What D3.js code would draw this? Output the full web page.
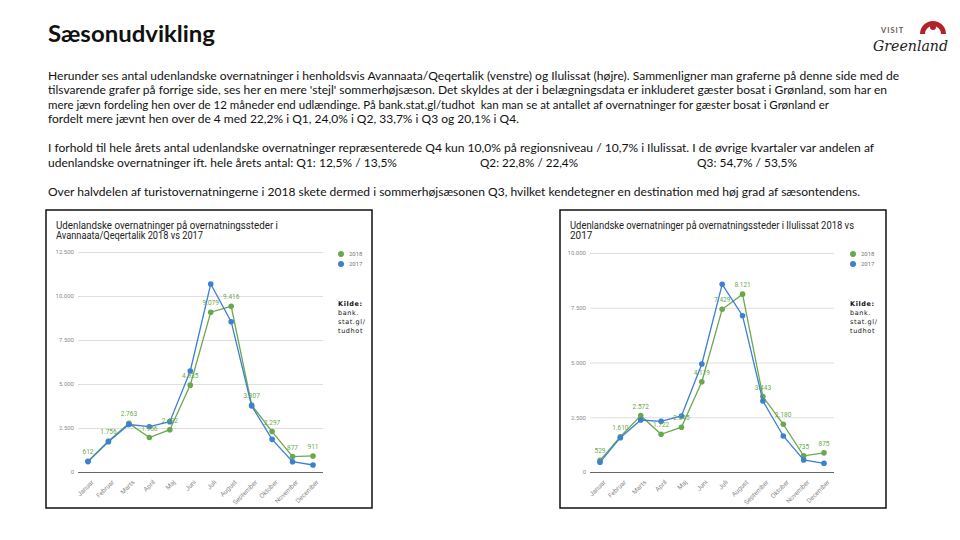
<!DOCTYPE html>
<html><head><meta charset="utf-8">
<script src="https://cdn.jsdelivr.net/npm/d3@7"></script>
<style>body{margin:0;background:#fff}svg{display:block}</style>
</head><body><svg id="c" width="960" height="540"></svg>
<script>
const pageTitle = "Sæsonudvikling";
const paragraph1 = [
  "Herunder ses antal udenlandske overnatninger i henholdsvis Avannaata/Qeqertalik (venstre) og Ilulissat (højre). Sammenligner man graferne på denne side med de",
  "tilsvarende grafer på forrige side, ses her en mere 'stejl' sommerhøjsæson. Det skyldes at der i belægningsdata er inkluderet gæster bosat i Grønland, som har en",
  "mere jævn fordeling hen over de 12 måneder end udlændinge. På bank.stat.gl/tudhot  kan man se at antallet af overnatninger for gæster bosat i Grønland er",
  "fordelt mere jævnt hen over de 4 med 22,2% i Q1, 24,0% i Q2, 33,7% i Q3 og 20,1% i Q4."
];
const paragraph2 = "I forhold til hele årets antal udenlandske overnatninger repræsenterede Q4 kun 10,0% på regionsniveau / 10,7% i Ilulissat. I de øvrige kvartaler var andelen af";
const paragraph2Parts = ["udenlandske overnatninger ift. hele årets antal: Q1: 12,5% / 13,5%", "Q2: 22,8% / 22,4%", "Q3: 54,7% / 53,5%"];
const paragraph3 = "Over halvdelen af turistovernatningerne i 2018 skete dermed i sommerhøjsæsonen Q3, hvilket kendetegner en destination med høj grad af sæsontendens.";

const months = ["Januar","Februar","Marts","April","Maj","Juni","Juli","August","September","Oktober","November","December"];
const seriesNames = ["2018","2017"];
const avannaata2018 = [612,1756,2763,1956,2402,4935,9079,9416,3807,2297,877,911];
const avannaata2017 = [590,1720,2700,2575,2860,5740,10680,8540,3750,1856,585,398];
const ilulissat2018 = [529,1610,2572,1722,2045,4119,7429,8121,3443,2180,735,875];
const ilulissat2017 = [443,1566,2374,2313,2557,4930,8570,7137,3242,1644,548,397];
const ticksAvannaata = [0,2500,5000,7500,10000,12500];
const ticksIlulissat = [0,2500,5000,7500,10000];
const titleAvannaata = ["Udenlandske overnatninger på overnatningssteder i","Avannaata/Qeqertalik 2018 vs 2017"];
const titleIlulissat = ["Udenlandske overnatninger på overnatningssteder i Ilulissat 2018 vs","2017"];
const sourceLines = ["Kilde:","bank.","stat.gl/","tudhot"];

const GREEN = "#6aa84f", BLUE = "#3d7fd3";
const svg = d3.select("#c");
const fmt = d3.formatLocale({decimal:",", thousands:".", grouping:[3], currency:["","kr"]}).format(",d");

// Page title
svg.append("text").attr("x",48).attr("y",42).attr("font-family","Lato, 'Open Sans', sans-serif")
  .attr("font-weight","bold").attr("font-size",22).attr("fill","#111")
  .attr("textLength",167).attr("lengthAdjust","spacingAndGlyphs").text(pageTitle);

// Logo
const logo = svg.append("g");
logo.append("text").attr("x",881).attr("y",33).attr("font-family","Lato, sans-serif").attr("font-weight","bold")
  .attr("font-size",7.5).attr("fill","#6b5a5a").attr("letter-spacing",1).text("VISIT");
logo.append("path").attr("d","M920,34 A13,13 0 0 1 946,34 L941,34 A8,8 0 0 0 925,34 Z").attr("fill","#b3222c");
logo.append("circle").attr("cx",933).attr("cy",27).attr("r",3).attr("fill","#b3222c");
logo.append("text").attr("x",873).attr("y",51).attr("font-family","'DejaVu Serif', serif").attr("font-style","italic")
  .attr("font-size",14).attr("fill","#222").attr("textLength",75).attr("lengthAdjust","spacingAndGlyphs").text("Greenland");

// Paragraph text
const pFont = "Lato, 'Open Sans', sans-serif";
function pline(txt, x, y, w){
  svg.append("text").attr("x",x).attr("y",y).attr("font-family",pFont).attr("font-size",11).attr("fill","#111")
    .attr("textLength",w).attr("lengthAdjust","spacingAndGlyphs").style("white-space","pre").text(txt);
}
const p1Ends = [899, 887, 829, 519];
const p1Base = [80, 94, 109, 123];
paragraph1.forEach((t,i)=>pline(t, 48, p1Base[i], p1Ends[i]-48));
pline(paragraph2, 48, 152, 874-48);
pline(paragraph2Parts[0], 48, 167, 397-48);
pline(paragraph2Parts[1], 480, 167, 98);
pline(paragraph2Parts[2], 697, 167, 100);
pline(paragraph3, 48, 196, 860-48);

function drawChart(cfg){
  const g = svg.append("g");
  g.append("rect").attr("x",cfg.box[0]).attr("y",cfg.box[1]).attr("width",cfg.box[2]).attr("height",cfg.box[3])
    .attr("fill","#fff").attr("stroke","#111").attr("stroke-width",1.5);
  cfg.title.forEach((t,i)=>{
    const tx = g.append("text").attr("x",cfg.titleX).attr("y",cfg.titleY + i*10)
      .attr("font-family","Roboto, Arial, sans-serif").attr("font-size",10).attr("fill","#222").text(t);
    if (cfg.titleW[i]) tx.attr("textLength",cfg.titleW[i]).attr("lengthAdjust","spacingAndGlyphs");
  });
  const x = d3.scalePoint().domain(months).range(cfg.xRange);
  const y = d3.scaleLinear().domain([0, cfg.yMax]).range([472, cfg.yTop]);
  const gx0 = cfg.xRange[0]-10, gx1 = cfg.xRange[1]+10;
  const ya = g.append("g").attr("transform",`translate(${gx0},0)`)
    .call(d3.axisLeft(y).tickValues(cfg.ticks).tickSize(-(gx1-gx0)).tickPadding(4).tickFormat(fmt));
  ya.select(".domain").remove();
  ya.selectAll(".tick line").attr("stroke", d=> d===0 ? "#666" : "#dedede").attr("stroke-width", d=> d===0?1.2:1);
  ya.selectAll(".tick text").attr("fill","#8a8a8a").style("font-size","6px").style("font-family","Roboto, Arial, sans-serif");

  const xa = g.append("g").attr("transform","translate(0,472)").call(d3.axisBottom(x).tickSize(0));
  xa.select(".domain").remove();
  xa.selectAll(".tick text").attr("x",0).attr("y",0).attr("dy","0.35em")
    .attr("text-anchor","end").attr("transform","translate(4,9) rotate(-45)")
    .attr("fill","#8a8a8a").style("font-size","6.5px").style("font-family","Roboto, Arial, sans-serif");

  const line = d3.line().x((d,i)=>x(months[i])).y(d=>y(d));
  [[cfg.s2018, GREEN],[cfg.s2017, BLUE]].forEach(([s,c])=>{
    g.append("path").datum(s).attr("d",line).attr("fill","none").attr("stroke",c).attr("stroke-width",1.3);
    g.selectAll(null).data(s).join("circle").attr("cx",(d,i)=>x(months[i])).attr("cy",d=>y(d)).attr("r",2.8).attr("fill",c);
  });
  g.selectAll(null).data(cfg.s2018).join("text").attr("x",(d,i)=>x(months[i])).attr("y",d=>y(d)-7)
    .attr("text-anchor","middle").attr("font-family","Roboto, Arial, sans-serif").attr("font-size",6.5)
    .attr("fill",GREEN).text(d=>fmt(d));

  // legend
  seriesNames.forEach((n,i)=>{
    const ly = cfg.legend[1] + i*10;
    g.append("circle").attr("cx",cfg.legend[0]).attr("cy",ly).attr("r",3).attr("fill", i===0?GREEN:BLUE);
    g.append("text").attr("x",cfg.legend[0]+8).attr("y",ly+2).attr("font-family","Roboto, Arial, sans-serif")
      .attr("font-size",6).attr("fill","#777").text(n);
  });
  sourceLines.forEach((t,i)=>{
    g.append("text").attr("x",cfg.source[0]).attr("y",cfg.source[1]+i*9).attr("font-family","'DejaVu Sans', sans-serif")
      .attr("font-weight", i===0?"bold":"normal").attr("font-size",6.5).attr("letter-spacing",0.6).attr("fill","#111").text(t);
  });
}

drawChart({box:[46,210,326,298], title:titleAvannaata, titleX:56, titleY:229, titleW:[222,147],
  xRange:[88,313], yMax:12500, yTop:252, ticks:ticksAvannaata, s2018:avannaata2018, s2017:avannaata2017,
  legend:[341,254], source:[338,306]});
drawChart({box:[560,210,326,298], title:titleIlulissat, titleX:570, titleY:229, titleW:[284,0],
  xRange:[600,824], yMax:10000, yTop:253, ticks:ticksIlulissat, s2018:ilulissat2018, s2017:ilulissat2017,
  legend:[853,254], source:[850,306]});
</script></body></html>
